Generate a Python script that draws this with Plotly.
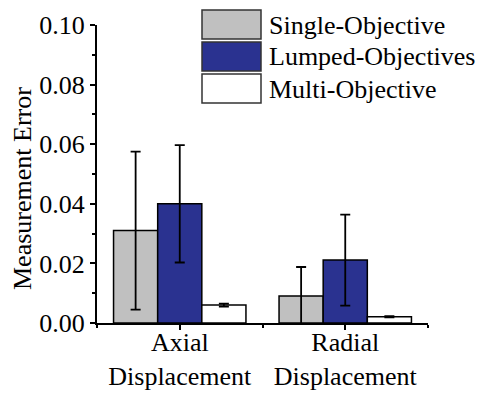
import plotly.graph_objects as go

categories = ["Axial<br>Displacement", "Radial<br>Displacement"]
series_names = ["Single-Objective", "Lumped-Objectives", "Multi-Objective"]
single_vals = [0.031, 0.0091]
single_err = [0.0265, 0.0097]
lumped_vals = [0.040, 0.0211]
lumped_err = [0.0197, 0.0153]
multi_vals = [0.0060, 0.0021]
multi_err = [0.0005, 0.0002]
yticks = [0.00, 0.02, 0.04, 0.06, 0.08, 0.10]

colors = ["#C0C0C0", "#2A3290", "#FFFFFF"]
FONT = "Liberation Serif, Times New Roman, serif"
FS = 26

W, H = 483, 394
L, R, T, B = 97, 55, 25, 71
pw, ph = W - L - R, H - T - B

def px_x(x):
    return (x - L) / pw

def px_y(y):
    return (H - B - y) / ph

xpos = list(range(len(categories)))
fig = go.Figure()
for name, vals, errs, col in zip(series_names,
                                  [single_vals, lumped_vals, multi_vals],
                                  [single_err, lumped_err, multi_err], colors):
    fig.add_trace(go.Bar(
        x=xpos, y=vals, name=name,
        marker=dict(color=col, line=dict(color="black", width=1.5)),
        error_y=dict(type="data", array=errs, visible=True, color="black",
                     thickness=1.8, width=5),
        showlegend=False,
    ))

# manual legend
box_tops = [10, 42, 74]
shapes = []
annotations = []
for top, name, col in zip(box_tops, series_names, colors):
    shapes.append(dict(type="rect", xref="paper", yref="paper",
                       x0=px_x(202), x1=px_x(261), y0=px_y(top + 29), y1=px_y(top),
                       fillcolor=col, line=dict(color="#333333", width=1.5)))
    annotations.append(dict(xref="paper", yref="paper", x=px_x(267), y=px_y(top + 15),
                            xanchor="left", yanchor="middle", showarrow=False,
                            text=name, font=dict(family=FONT, size=FS, color="black")))

annotations.append(dict(xref="paper", yref="paper", x=px_x(22), y=px_y(189),
                        xanchor="center", yanchor="middle", showarrow=False,
                        textangle=-90, text="Measurement Error",
                        font=dict(family=FONT, size=FS, color="black")))

fig.update_layout(
    width=W, height=H,
    margin=dict(l=L, r=R, t=T, b=B, autoexpand=False),
    paper_bgcolor="white", plot_bgcolor="white",
    barmode="group", bargap=0.2, bargroupgap=0,
    font=dict(family=FONT, size=FS, color="black"),
    shapes=shapes, annotations=annotations,
    xaxis=dict(range=[-0.5, 1.5], tickvals=xpos, ticktext=categories,
               automargin=False, ticklabelstandoff=-10,
               showline=True, linecolor="black", linewidth=2,
               ticks="outside", ticklen=5, tickwidth=2, tickcolor="black",
               showgrid=False, zeroline=False,
               minor=dict(tickvals=[-0.5, 0.5, 1.5], ticks="outside", ticklen=3,
                          tickwidth=2, tickcolor="black"),
               tickfont=dict(family=FONT, size=FS)),
    yaxis=dict(range=[0, 0.10], tickvals=yticks, tickformat=".2f",
               automargin=False,
               showline=True, linecolor="black", linewidth=2,
               ticks="outside", ticklen=5, tickwidth=2, tickcolor="black",
               showgrid=False, zeroline=False,
               minor=dict(dtick=0.01, ticks="outside", ticklen=3, tickwidth=2,
                          tickcolor="black"),
               tickfont=dict(family=FONT, size=FS)),
)

fig.write_html("out.html", config={"displayModeBar": False},
               post_script="document.body.style.margin='0px';document.body.style.overflow='hidden';")
